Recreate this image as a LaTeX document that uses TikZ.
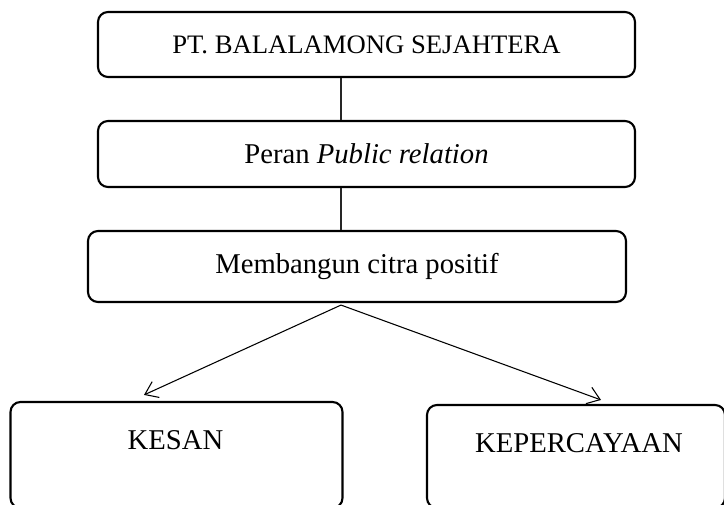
\documentclass[tikz,border=0pt]{standalone}
\usepackage{fontspec}
\setmainfont{Liberation Serif}
\usetikzlibrary{arrows.meta}
\begin{document}
\begin{tikzpicture}[x=0.75pt,y=-0.75pt,
  box/.style={draw=black, line width=1.6pt, rounded corners=7.5pt, inner sep=0pt, align=center},
  small/.style={font=\fontsize{20}{24}\selectfont},
  big/.style={font=\fontsize{21.5}{26}\selectfont},
  link/.style={draw=black!85, line width=0.8pt},
  arr/.style={draw=black, line width=0.8pt, -{Straight Barb[length=9pt,width=13pt,line width=0.8pt]}}]
\useasboundingbox (0,0) rectangle (724,505);
\clip (0,0) rectangle (724,505);
\fill[white] (0,0) rectangle (724,505);
\coordinate (lx) at (341,0);
\coordinate (ax1) at (144,0);
\coordinate (ax2) at (601,0);
\node[box, small, minimum width=402.75pt, minimum height=48.75pt] (b1) at (366.5,44.5) {PT. BALALAMONG SEJAHTERA};
\node[box, big, minimum width=402.75pt, minimum height=49.5pt] (b2) at (366.5,154) {Peran \textit{Public relation}};
\node[box, big, minimum width=403.5pt, minimum height=53.25pt] (b3) at (357,266.5) {Membangun citra positif};
\node[box, minimum width=249pt, minimum height=79.5pt] (kesan) at (176.5,455) {};
\node[box, minimum width=223.5pt, minimum height=77.25pt] (kep) at (576,456.5) {};
\node[big, inner sep=0pt] (kesant) at (175.5,440) {KESAN};
\node[big, inner sep=0pt] (kept) at (579,443) {KEPERCAYAAN};
\draw[link] (b1.south -| lx) -- (b2.north -| lx);
\draw[link] (b2.south -| lx) -- (b3.north -| lx);
\coordinate (apex) at ([yshift=-1.5pt]b3.south -| lx);
\draw[arr] (apex) -- ([yshift=4.5pt]kesan.north -| ax1);
\draw[arr] (apex) -- ([yshift=3pt]kep.north -| ax2);
\end{tikzpicture}
\end{document}
